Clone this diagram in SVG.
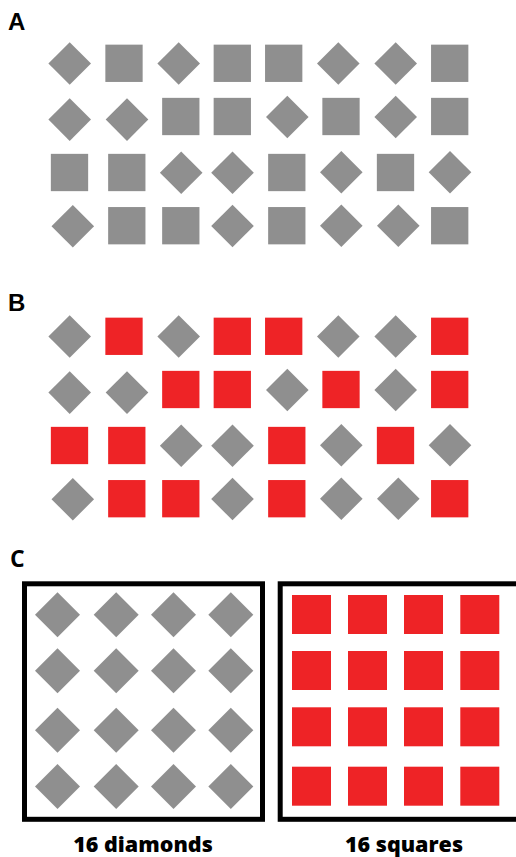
<svg xmlns="http://www.w3.org/2000/svg" xmlns:xlink="http://www.w3.org/1999/xlink" width="516" height="857" viewBox="0 0 516 857">
<style>
.g{fill:#8f8f8f}
.r{fill:#ee2326}
.lbl{font-family:"Liberation Sans",Arial,sans-serif;font-weight:bold;font-size:24px;fill:#000}
.lblc{font-family:"Open Sans","Liberation Sans",sans-serif;font-weight:bold;font-size:23px;fill:#000}
.cap{font-family:"Open Sans","Liberation Sans",sans-serif;font-weight:800;font-size:21.5px;fill:#000;text-anchor:middle}
.box{fill:#fff;stroke:#000;stroke-width:5}
</style>
<defs>
<polygon id="d" points="0,-21.3 21.3,0 0,21.3 -21.3,0"/>
<rect id="s" x="-18.65" y="-18.65" width="37.3" height="37.3"/>
<polygon id="D" points="0,-22.5 22.5,0 0,22.5 -22.5,0"/>
<rect id="S" x="-19.5" y="-19.5" width="39" height="39"/>
</defs>
<rect width="516" height="857" fill="#fff"/>
<g id="connectors"/>
<text class="lbl" x="8" y="30">A</text>
<g id="panelA" class="g">
<use href="#d" x="69.7" y="63.5"/><use href="#s" x="124" y="63.3"/><use href="#d" x="178.7" y="63.5"/><use href="#s" x="232.3" y="63.3"/><use href="#s" x="283.7" y="63.3"/><use href="#d" x="338.3" y="63.5"/><use href="#d" x="395.7" y="63.5"/><use href="#s" x="449.7" y="63.3"/>
<use href="#d" x="69.7" y="119.6"/><use href="#d" x="127" y="119.6"/><use href="#s" x="180.8" y="116.5"/><use href="#s" x="232.3" y="116.5"/><use href="#d" x="287.3" y="117"/><use href="#s" x="341" y="116.5"/><use href="#d" x="395.7" y="117"/><use href="#s" x="449.7" y="116.5"/>
<use href="#s" x="69.5" y="172.5"/><use href="#s" x="126.8" y="172.5"/><use href="#d" x="181.2" y="172.8"/><use href="#d" x="232.5" y="172.8"/><use href="#s" x="286.8" y="172.5"/><use href="#d" x="341.3" y="172.3"/><use href="#s" x="395.5" y="172.5"/><use href="#d" x="450" y="172.3"/>
<use href="#d" x="72.8" y="226.2"/><use href="#s" x="126.8" y="225.7"/><use href="#s" x="180.8" y="225.7"/><use href="#d" x="232.5" y="226"/><use href="#s" x="286.8" y="225.7"/><use href="#d" x="341.3" y="225.8"/><use href="#d" x="398.3" y="225.8"/><use href="#s" x="449.7" y="225.7"/>
</g>
<text class="lbl" x="8" y="311">B</text>
<g id="panelB" transform="translate(0,273)">
<g class="g">
<use href="#d" x="69.7" y="63.5"/><use href="#d" x="178.7" y="63.5"/><use href="#d" x="338.3" y="63.5"/><use href="#d" x="395.7" y="63.5"/>
<use href="#d" x="69.7" y="119.6"/><use href="#d" x="127" y="119.6"/><use href="#d" x="287.3" y="117"/><use href="#d" x="395.7" y="117"/>
<use href="#d" x="181.2" y="172.8"/><use href="#d" x="232.5" y="172.8"/><use href="#d" x="341.3" y="172.3"/><use href="#d" x="450" y="172.3"/>
<use href="#d" x="72.8" y="226.2"/><use href="#d" x="232.5" y="226"/><use href="#d" x="341.3" y="225.8"/><use href="#d" x="398.3" y="225.8"/>
</g>
<g class="r">
<use href="#s" x="124" y="63.3"/><use href="#s" x="232.3" y="63.3"/><use href="#s" x="283.7" y="63.3"/><use href="#s" x="449.7" y="63.3"/>
<use href="#s" x="180.8" y="116.5"/><use href="#s" x="232.3" y="116.5"/><use href="#s" x="341" y="116.5"/><use href="#s" x="449.7" y="116.5"/>
<use href="#s" x="69.5" y="172.5"/><use href="#s" x="126.8" y="172.5"/><use href="#s" x="286.8" y="172.5"/><use href="#s" x="395.5" y="172.5"/>
<use href="#s" x="126.8" y="225.7"/><use href="#s" x="180.8" y="225.7"/><use href="#s" x="286.8" y="225.7"/><use href="#s" x="449.7" y="225.7"/>
</g>
</g>
<text class="lblc" x="10" y="567">C</text>
<g id="boxDiamonds">
<rect class="box" x="24.5" y="583.8" width="238" height="235.5"/>
<g class="g">
<use href="#D" x="57.5" y="614.8"/><use href="#D" x="116.2" y="614.8"/><use href="#D" x="173.5" y="614.8"/><use href="#D" x="230.8" y="614.8"/>
<use href="#D" x="57.5" y="670.8"/><use href="#D" x="116.2" y="670.8"/><use href="#D" x="173.5" y="670.8"/><use href="#D" x="230.8" y="670.8"/>
<use href="#D" x="57.5" y="730.2"/><use href="#D" x="116.2" y="730.2"/><use href="#D" x="173.5" y="730.2"/><use href="#D" x="230.8" y="730.2"/>
<use href="#D" x="57.5" y="786.5"/><use href="#D" x="116.2" y="786.5"/><use href="#D" x="173.5" y="786.5"/><use href="#D" x="230.8" y="786.5"/>
</g>
<text class="cap" x="143" y="852">16 diamonds</text>
</g>
<g id="boxSquares">
<rect class="box" x="280.2" y="583.8" width="245" height="235.5"/>
<g class="r">
<use href="#S" x="311.5" y="614.5"/><use href="#S" x="367.5" y="614.5"/><use href="#S" x="423.5" y="614.5"/><use href="#S" x="479.8" y="614.5"/>
<use href="#S" x="311.5" y="670.5"/><use href="#S" x="367.5" y="670.5"/><use href="#S" x="423.5" y="670.5"/><use href="#S" x="479.8" y="670.5"/>
<use href="#S" x="311.5" y="726.8"/><use href="#S" x="367.5" y="726.8"/><use href="#S" x="423.5" y="726.8"/><use href="#S" x="479.8" y="726.8"/>
<use href="#S" x="311.5" y="786.2"/><use href="#S" x="367.5" y="786.2"/><use href="#S" x="423.5" y="786.2"/><use href="#S" x="479.8" y="786.2"/>
</g>
<text class="cap" x="404" y="852">16 squares</text>
</g>
</svg>
